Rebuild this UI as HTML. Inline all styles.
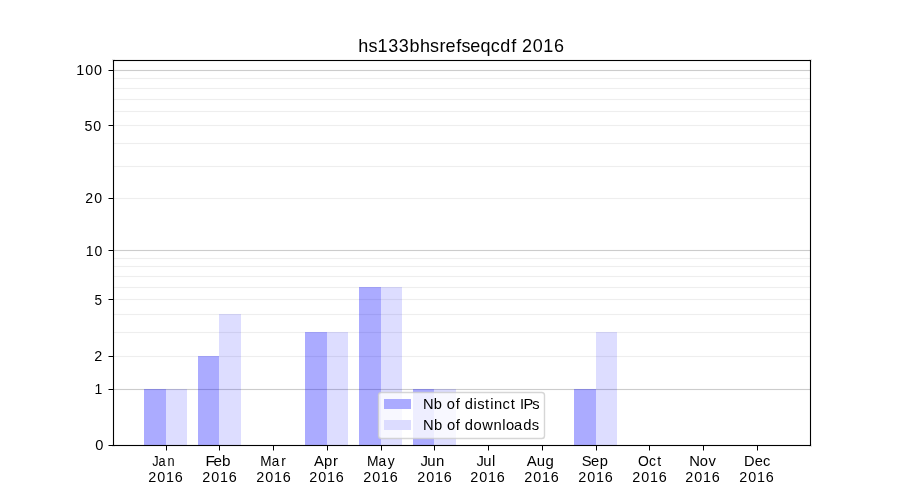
<!DOCTYPE html><html><head><meta charset="utf-8"><style>html,body{margin:0;padding:0;background:#fff;width:900px;height:500px;overflow:hidden}svg{display:block;will-change:transform}text{font-family:"Liberation Sans",sans-serif;fill:#000}</style></head><body>
<svg width="900" height="500" viewBox="0 0 900 500">
<rect x="0" y="0" width="900" height="500" fill="#fff"/>
<g shape-rendering="crispEdges">
<rect x="114" y="77" width="696" height="3" fill="#fefefe"/>
<rect x="114" y="78" width="696" height="1" fill="#eeeeee"/>
<rect x="114" y="87" width="696" height="3" fill="#fefefe"/>
<rect x="114" y="88" width="696" height="1" fill="#eeeeee"/>
<rect x="114" y="98" width="696" height="3" fill="#fefefe"/>
<rect x="114" y="99" width="696" height="1" fill="#eeeeee"/>
<rect x="114" y="110" width="696" height="3" fill="#fefefe"/>
<rect x="114" y="111" width="696" height="1" fill="#eeeeee"/>
<rect x="114" y="124" width="696" height="3" fill="#fefefe"/>
<rect x="114" y="125" width="696" height="1" fill="#eeeeee"/>
<rect x="114" y="142" width="696" height="3" fill="#fefefe"/>
<rect x="114" y="143" width="696" height="1" fill="#eeeeee"/>
<rect x="114" y="165" width="696" height="3" fill="#fefefe"/>
<rect x="114" y="166" width="696" height="1" fill="#eeeeee"/>
<rect x="114" y="197" width="696" height="3" fill="#fefefe"/>
<rect x="114" y="198" width="696" height="1" fill="#eeeeee"/>
<rect x="114" y="257" width="696" height="3" fill="#fefefe"/>
<rect x="114" y="258" width="696" height="1" fill="#eeeeee"/>
<rect x="114" y="265" width="696" height="3" fill="#fefefe"/>
<rect x="114" y="266" width="696" height="1" fill="#eeeeee"/>
<rect x="114" y="275" width="696" height="3" fill="#fefefe"/>
<rect x="114" y="276" width="696" height="1" fill="#eeeeee"/>
<rect x="114" y="286" width="696" height="3" fill="#fefefe"/>
<rect x="114" y="287" width="696" height="1" fill="#eeeeee"/>
<rect x="114" y="298" width="696" height="3" fill="#fefefe"/>
<rect x="114" y="299" width="696" height="1" fill="#eeeeee"/>
<rect x="114" y="313" width="696" height="3" fill="#fefefe"/>
<rect x="114" y="314" width="696" height="1" fill="#eeeeee"/>
<rect x="114" y="331" width="696" height="3" fill="#fefefe"/>
<rect x="114" y="332" width="696" height="1" fill="#eeeeee"/>
<rect x="114" y="355" width="696" height="3" fill="#fefefe"/>
<rect x="114" y="356" width="696" height="1" fill="#eeeeee"/>
<rect x="114" y="69" width="696" height="3" fill="#fcfcfc"/>
<rect x="114" y="70" width="696" height="1" fill="#cccccc"/>
<rect x="114" y="249" width="696" height="3" fill="#fcfcfc"/>
<rect x="114" y="250" width="696" height="1" fill="#cccccc"/>
<rect x="114" y="388" width="696" height="3" fill="#fcfcfc"/>
<rect x="114" y="389" width="696" height="1" fill="#cccccc"/>
<rect x="144" y="389" width="22" height="56" fill="rgba(0,0,255,0.33)"/>
<rect x="166" y="389" width="21" height="56" fill="rgba(0,0,255,0.135)"/>
<rect x="198" y="356" width="21" height="89" fill="rgba(0,0,255,0.33)"/>
<rect x="219" y="314" width="22" height="131" fill="rgba(0,0,255,0.135)"/>
<rect x="305" y="332" width="22" height="113" fill="rgba(0,0,255,0.33)"/>
<rect x="327" y="332" width="21" height="113" fill="rgba(0,0,255,0.135)"/>
<rect x="359" y="287" width="22" height="158" fill="rgba(0,0,255,0.33)"/>
<rect x="381" y="287" width="21" height="158" fill="rgba(0,0,255,0.135)"/>
<rect x="413" y="389" width="21" height="56" fill="rgba(0,0,255,0.33)"/>
<rect x="434" y="389" width="22" height="56" fill="rgba(0,0,255,0.135)"/>
<rect x="574" y="389" width="22" height="56" fill="rgba(0,0,255,0.33)"/>
<rect x="596" y="332" width="21" height="113" fill="rgba(0,0,255,0.135)"/>
<rect x="112" y="59" width="700" height="3" fill="rgba(0,0,0,0.055)"/>
<rect x="112" y="444" width="700" height="3" fill="rgba(0,0,0,0.055)"/>
<rect x="112" y="59" width="3" height="388" fill="rgba(0,0,0,0.055)"/>
<rect x="809" y="59" width="3" height="388" fill="rgba(0,0,0,0.055)"/>
<rect x="113" y="60" width="698" height="1" fill="#000"/>
<rect x="113" y="445" width="698" height="1" fill="#000"/>
<rect x="113" y="60" width="1" height="386" fill="#000"/>
<rect x="810" y="60" width="1" height="386" fill="#000"/>
<rect x="108" y="70" width="1" height="1" fill="#7f7f7f"/>
<rect x="109" y="70" width="4" height="1" fill="#000"/>
<rect x="108" y="125" width="1" height="1" fill="#7f7f7f"/>
<rect x="109" y="125" width="4" height="1" fill="#000"/>
<rect x="108" y="198" width="1" height="1" fill="#7f7f7f"/>
<rect x="109" y="198" width="4" height="1" fill="#000"/>
<rect x="108" y="250" width="1" height="1" fill="#7f7f7f"/>
<rect x="109" y="250" width="4" height="1" fill="#000"/>
<rect x="108" y="299" width="1" height="1" fill="#7f7f7f"/>
<rect x="109" y="299" width="4" height="1" fill="#000"/>
<rect x="108" y="356" width="1" height="1" fill="#7f7f7f"/>
<rect x="109" y="356" width="4" height="1" fill="#000"/>
<rect x="108" y="389" width="1" height="1" fill="#7f7f7f"/>
<rect x="109" y="389" width="4" height="1" fill="#000"/>
<rect x="108" y="445" width="1" height="1" fill="#7f7f7f"/>
<rect x="109" y="445" width="4" height="1" fill="#000"/>
<rect x="166" y="446" width="1" height="4" fill="#000"/>
<rect x="166" y="450" width="1" height="1" fill="#7f7f7f"/>
<rect x="219" y="446" width="1" height="4" fill="#000"/>
<rect x="219" y="450" width="1" height="1" fill="#7f7f7f"/>
<rect x="273" y="446" width="1" height="4" fill="#000"/>
<rect x="273" y="450" width="1" height="1" fill="#7f7f7f"/>
<rect x="327" y="446" width="1" height="4" fill="#000"/>
<rect x="327" y="450" width="1" height="1" fill="#7f7f7f"/>
<rect x="381" y="446" width="1" height="4" fill="#000"/>
<rect x="381" y="450" width="1" height="1" fill="#7f7f7f"/>
<rect x="434" y="446" width="1" height="4" fill="#000"/>
<rect x="434" y="450" width="1" height="1" fill="#7f7f7f"/>
<rect x="488" y="446" width="1" height="4" fill="#000"/>
<rect x="488" y="450" width="1" height="1" fill="#7f7f7f"/>
<rect x="542" y="446" width="1" height="4" fill="#000"/>
<rect x="542" y="450" width="1" height="1" fill="#7f7f7f"/>
<rect x="596" y="446" width="1" height="4" fill="#000"/>
<rect x="596" y="450" width="1" height="1" fill="#7f7f7f"/>
<rect x="649" y="446" width="1" height="4" fill="#000"/>
<rect x="649" y="450" width="1" height="1" fill="#7f7f7f"/>
<rect x="703" y="446" width="1" height="4" fill="#000"/>
<rect x="703" y="450" width="1" height="1" fill="#7f7f7f"/>
<rect x="757" y="446" width="1" height="4" fill="#000"/>
<rect x="757" y="450" width="1" height="1" fill="#7f7f7f"/>
</g>
<rect x="378.5" y="392.5" width="166" height="46" rx="2.8" ry="2.8" fill="rgba(255,255,255,0.8)" stroke="rgba(204,204,204,0.8)" stroke-width="1.4"/>
<g shape-rendering="crispEdges">
<rect x="384" y="399" width="27" height="10" fill="#ababff"/>
<rect x="384" y="420" width="27" height="10" fill="#dcdcff"/>
</g>
<text transform="translate(0 51.50) scale(1.0287 1)" x="348.25 358.20 366.87 377.30 387.61 397.98 408.17 418.12 427.32 433.05 443.49 448.53 457.16 467.16 477.15 486.36 497.08 500.08 507.38 517.90 528.12 538.52" y="0" font-size="17.500">hs133bhsrefseqcdf 2016</text>
<text transform="translate(0 74.55) scale(1.0028 1)" x="76.10 84.98 93.79" y="0" font-size="14.308">100</text>
<text transform="translate(0 130.50) scale(0.9746 1)" x="86.61 95.73" y="0" font-size="14.600">50</text>
<text transform="translate(0 202.55) scale(0.9847 1)" x="86.53 95.69" y="0" font-size="14.308">20</text>
<text transform="translate(0 255.50) scale(0.9803 1)" x="87.36 96.45" y="0" font-size="14.308">10</text>
<text transform="translate(0 304.50) scale(0.9464 1)" x="99.73" y="0" font-size="14.308">5</text>
<text transform="translate(0 360.55) scale(0.9666 1)" x="97.39" y="0" font-size="14.892">2</text>
<text transform="translate(0 393.55) scale(0.9578 1)" x="98.56" y="0" font-size="14.600">1</text>
<text transform="translate(0 449.55) scale(1.0028 1)" x="94.91" y="0" font-size="14.600">0</text>
<text transform="translate(0 465.55) scale(0.8554 1)" x="178.06 185.25 195.97" y="0" font-size="14.892">Jan</text>
<text transform="translate(0 481.55) scale(0.9847 1)" x="150.44 159.60 168.50 177.55" y="0" font-size="14.600">2016</text>
<text transform="translate(0 465.55) scale(1.0275 1)" x="199.92 207.68 216.18" y="0" font-size="14.892">Feb</text>
<text transform="translate(0 481.55) scale(0.9847 1)" x="205.28 214.44 223.34 232.39" y="0" font-size="14.600">2016</text>
<text transform="translate(0 465.55) scale(0.9485 1)" x="274.25 286.54 296.50" y="0" font-size="14.308">Mar</text>
<text transform="translate(0 481.55) scale(0.9847 1)" x="260.12 269.28 278.18 287.23" y="0" font-size="14.600">2016</text>
<text transform="translate(0 465.55) scale(1.0350 1)" x="303.28 313.02 321.83" y="0" font-size="14.308">Apr</text>
<text transform="translate(0 481.55) scale(0.9847 1)" x="313.94 323.10 332.00 341.05" y="0" font-size="14.600">2016</text>
<text transform="translate(0 465.55) scale(0.9485 1)" x="386.88 399.17 408.93" y="0" font-size="14.600">May</text>
<text transform="translate(0 481.55) scale(0.9847 1)" x="368.78 377.94 386.84 395.89" y="0" font-size="14.600">2016</text>
<text transform="translate(0 465.55) scale(1.0257 1)" x="410.01 416.45 425.09" y="0" font-size="14.600">Jun</text>
<text transform="translate(0 481.55) scale(0.9847 1)" x="423.62 432.78 441.68 450.73" y="0" font-size="14.600">2016</text>
<text transform="translate(0 465.55) scale(0.9724 1)" x="490.02 496.86 505.84" y="0" font-size="15.184">Jul</text>
<text transform="translate(0 481.55) scale(0.9847 1)" x="477.44 486.60 495.50 504.55" y="0" font-size="14.600">2016</text>
<text transform="translate(0 465.55) scale(1.0257 1)" x="513.58 523.29 531.83" y="0" font-size="14.600">Aug</text>
<text transform="translate(0 481.55) scale(0.9847 1)" x="532.28 541.44 550.34 559.39" y="0" font-size="14.600">2016</text>
<text transform="translate(0 465.55) scale(1.0275 1)" x="566.08 575.29 583.79" y="0" font-size="14.308">Sep</text>
<text transform="translate(0 481.55) scale(0.9847 1)" x="587.12 596.28 605.18 614.23" y="0" font-size="14.600">2016</text>
<text transform="translate(0 465.55) scale(0.9545 1)" x="668.35 679.93 688.54" y="0" font-size="14.600">Oct</text>
<text transform="translate(0 481.55) scale(0.9847 1)" x="641.96 651.12 660.02 669.07" y="0" font-size="14.600">2016</text>
<text transform="translate(0 465.55) scale(1.0113 1)" x="681.47 692.03 700.70" y="0" font-size="14.600">Nov</text>
<text transform="translate(0 481.55) scale(0.9847 1)" x="695.78 704.94 713.85 722.89" y="0" font-size="14.600">2016</text>
<text transform="translate(0 465.55) scale(0.9842 1)" x="755.85 766.84 775.27" y="0" font-size="14.892">Dec</text>
<text transform="translate(0 481.55) scale(0.9847 1)" x="750.62 759.78 768.68 777.73" y="0" font-size="14.600">2016</text>
<text transform="translate(0 408.55) scale(1.0061 1)" x="420.38 431.23 434.23 444.14 453.00 456.00 461.91 470.73 474.31 482.10 487.18 491.05 499.44 507.69 510.69 516.86 520.44 529.05" y="0" font-size="14.600">Nb of distinct IPs</text>
<text transform="translate(0 429.55) scale(1.0113 1)" x="418.28 429.08 432.08 441.92 450.74 453.74 459.60 468.24 476.84 488.05 496.72 500.40 508.28 517.29 525.81" y="0" font-size="14.600">Nb of downloads</text>
</svg></body></html>
